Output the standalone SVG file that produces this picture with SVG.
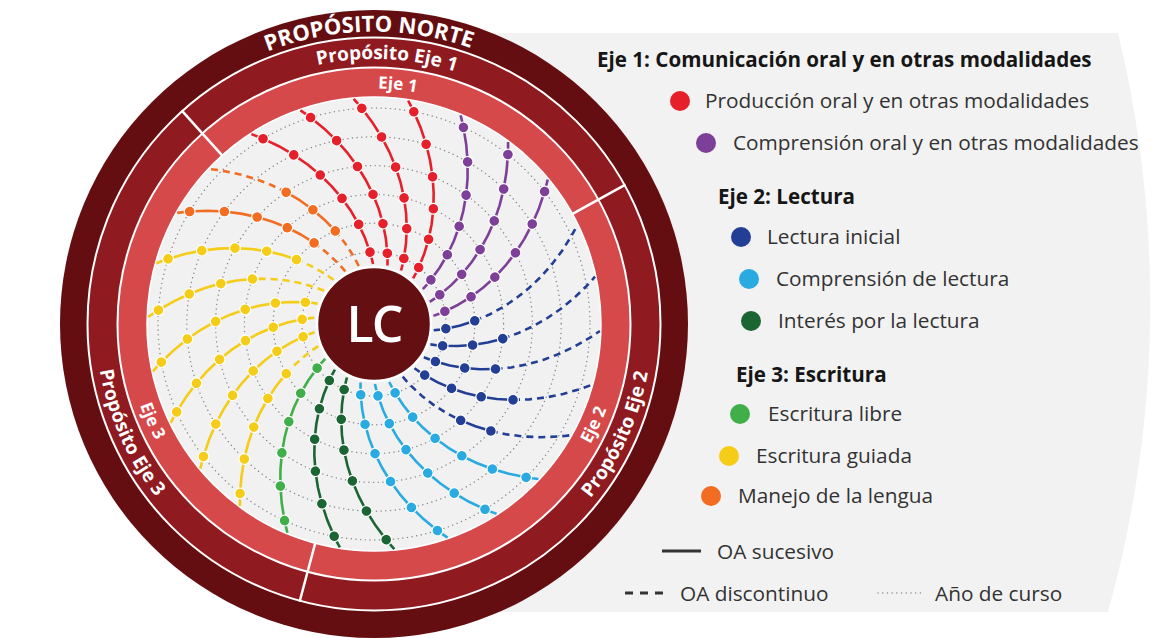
<svg xmlns="http://www.w3.org/2000/svg" width="1154" height="638" viewBox="0 0 1154 638">
<style>
.ring{font-family:"Open Sans","Liberation Sans",sans-serif;font-weight:700;fill:#fff}
.leg{font-family:"Open Sans","Liberation Sans",sans-serif;font-size:20.8px;fill:#333}
.head{font-family:"Open Sans","Liberation Sans",sans-serif;font-size:20.6px;font-weight:700;fill:#161616}
.yr{fill:none;stroke:#8a8a8a;stroke-width:1.4;stroke-dasharray:0.1 4.6;stroke-linecap:round}
.dash{stroke-dasharray:7 5}
.div{stroke:#fff;stroke-width:2.5}
</style>
<defs>
<path id="full" fill="none" d="M59.95,2.42 L65.99,1.33 72,0 86.3,-4.18 100.33,-9.74 113.99,-16.66 127.18,-24.92 139.81,-34.5 151.77,-45.34 162.99,-57.41 173.35,-70.66 182.79,-85.03 191.21,-100.47 193.88,-106.07 196.42,-111.78"/>
<path id="a60_101" fill="none" d="M59.95,2.42 L65.99,1.33 72,0 86.3,-4.18 100.33,-9.74"/>
<path id="a60_130" fill="none" d="M59.95,2.42 L65.99,1.33 72,0 86.3,-4.18 100.33,-9.74 113.99,-16.66 127.18,-24.92"/>
<path id="a60_158" fill="none" d="M59.95,2.42 L65.99,1.33 72,0 86.3,-4.18 100.33,-9.74 113.99,-16.66 127.18,-24.92 139.81,-34.5 151.77,-45.34"/>
<path id="a101_226" fill="none" d="M100.33,-9.74 L113.99,-16.66 127.18,-24.92 139.81,-34.5 151.77,-45.34 162.99,-57.41 173.35,-70.66 182.79,-85.03 191.21,-100.47 193.88,-106.07 196.42,-111.78"/>
<path id="a130_226" fill="none" d="M127.18,-24.92 L139.81,-34.5 151.77,-45.34 162.99,-57.41 173.35,-70.66 182.79,-85.03 191.21,-100.47 193.88,-106.07 196.42,-111.78"/>
<path id="a158_226" fill="none" d="M151.77,-45.34 L162.99,-57.41 173.35,-70.66 182.79,-85.03 191.21,-100.47 193.88,-106.07 196.42,-111.78"/>
<path id="a101_158" fill="none" d="M100.33,-9.74 L113.99,-16.66 127.18,-24.92 139.81,-34.5 151.77,-45.34"/>
<path id="a130_158" fill="none" d="M127.18,-24.92 L139.81,-34.5 151.77,-45.34"/>
<g id="D16" stroke="#fff" stroke-width="1.2"><circle cx="72" cy="0" r="5.4"/><circle cx="100.33" cy="-9.74" r="5.4"/><circle cx="127.18" cy="-24.92" r="5.4"/><circle cx="151.77" cy="-45.34" r="5.4"/><circle cx="173.35" cy="-70.66" r="5.4"/><circle cx="191.21" cy="-100.47" r="5.4"/></g>
<g id="D12" stroke="#fff" stroke-width="1.2"><circle cx="72" cy="0" r="5.4"/><circle cx="100.33" cy="-9.74" r="5.4"/></g>
<g id="D13" stroke="#fff" stroke-width="1.2"><circle cx="72" cy="0" r="5.4"/><circle cx="100.33" cy="-9.74" r="5.4"/><circle cx="127.18" cy="-24.92" r="5.4"/></g>
<g id="D14" stroke="#fff" stroke-width="1.2"><circle cx="72" cy="0" r="5.4"/><circle cx="100.33" cy="-9.74" r="5.4"/><circle cx="127.18" cy="-24.92" r="5.4"/><circle cx="151.77" cy="-45.34" r="5.4"/></g>
<g id="D34" stroke="#fff" stroke-width="1.2"><circle cx="127.18" cy="-24.92" r="5.4"/><circle cx="151.77" cy="-45.34" r="5.4"/></g>
<g id="D26" stroke="#fff" stroke-width="1.2"><circle cx="100.33" cy="-9.74" r="5.4"/><circle cx="127.18" cy="-24.92" r="5.4"/><circle cx="151.77" cy="-45.34" r="5.4"/><circle cx="173.35" cy="-70.66" r="5.4"/><circle cx="191.21" cy="-100.47" r="5.4"/></g>
<g id="D36" stroke="#fff" stroke-width="1.2"><circle cx="127.18" cy="-24.92" r="5.4"/><circle cx="151.77" cy="-45.34" r="5.4"/><circle cx="173.35" cy="-70.66" r="5.4"/><circle cx="191.21" cy="-100.47" r="5.4"/></g>
<g id="D24" stroke="#fff" stroke-width="1.2"><circle cx="100.33" cy="-9.74" r="5.4"/><circle cx="127.18" cy="-24.92" r="5.4"/><circle cx="151.77" cy="-45.34" r="5.4"/></g>
<path id="tpNorte" fill="none" d="M118.2,182.2 A292.5,292.5 0 0 1 624.7,173.4"/>
<path id="tpP1" fill="none" d="M151.2,180.4 A265,265 0 0 1 609.7,202.9"/>
<path id="tpE1" fill="none" d="M182.8,186.6 A235.5,235.5 0 0 1 588.6,227.1"/>
<path id="tpP2" fill="none" d="M401.1,600.7 A278,278 0 0 0 600,162.2"/>
<path id="tpE2" fill="none" d="M397.3,570.4 A247.5,247.5 0 0 0 575.7,180.6"/>
<path id="tpP3" fill="none" d="M149.1,160.6 A278,278 0 0 0 344.9,600.5"/>
<path id="tpE3" fill="none" d="M174.8,177.1 A247.5,247.5 0 0 0 346.4,570"/>
</defs>

<g id="background">
<rect width="1154" height="638" fill="#fff"/>
<path d="M380,33 L1118,33 A1150,1150 0 0 1 1108,612 L380,612 Z" fill="#F2F2F2"/>
</g>

<g id="wheel">
<circle cx="374" cy="324" r="314" fill="#650E12"/>
<circle cx="374" cy="324" r="286.5" fill="#8F1A20" stroke="#fff" stroke-width="2"/>
<circle cx="374" cy="324" r="256.5" fill="#D6494B" stroke="#fff" stroke-width="2"/>
<circle cx="374" cy="324" r="227" fill="#F1F1F1" stroke="#fff" stroke-width="1.5"/>
<line class="div" x1="222.1" y1="155.3" x2="181.6" y2="110.3"/>
<line class="div" x1="572.5" y1="213.9" x2="625.5" y2="184.6"/>
<line class="div" x1="315.2" y1="543.3" x2="299.6" y2="601.7"/>
</g>

<g id="ring-labels" class="ring">
<text font-size="22"><textPath href="#tpNorte" startOffset="50%" text-anchor="middle">PROPÓSITO NORTE</textPath></text>
<text font-size="19"><textPath href="#tpP1" startOffset="50%" text-anchor="middle">Propósito Eje 1</textPath></text>
<text font-size="17"><textPath href="#tpE1" startOffset="50%" text-anchor="middle">Eje 1</textPath></text>
<text font-size="19"><textPath href="#tpP2" startOffset="50%" text-anchor="middle">Propósito Eje 2</textPath></text>
<text font-size="17"><textPath href="#tpE2" startOffset="50%" text-anchor="middle">Eje 2</textPath></text>
<text font-size="19"><textPath href="#tpP3" startOffset="50%" text-anchor="middle">Propósito Eje 3</textPath></text>
<text font-size="17"><textPath href="#tpE3" startOffset="50%" text-anchor="middle">Eje 3</textPath></text>
</g>

<g id="year-circles">
<circle class="yr" cx="374" cy="324" r="72"/>
<circle class="yr" cx="374" cy="324" r="100.8"/>
<circle class="yr" cx="374" cy="324" r="129.6"/>
<circle class="yr" cx="374" cy="324" r="158.4"/>
<circle class="yr" cx="374" cy="324" r="187.2"/>
<circle class="yr" cx="374" cy="324" r="216"/>
</g>

<g id="arms" transform="translate(374 324)" stroke-width="2.6" stroke-linejoin="round">
<g id="arm-red-1" transform="rotate(-93.2)" stroke="#E5202A" fill="#E5202A"><use href="#full"/><use href="#D16"/></g>
<g id="arm-red-2" transform="rotate(-79.35)" stroke="#E5202A" fill="#E5202A"><use href="#full"/><use href="#D16"/></g>
<g id="arm-red-3" transform="rotate(-65.51)" stroke="#E5202A" fill="#E5202A"><use href="#full"/><use href="#D16"/></g>
<g id="arm-red-4" transform="rotate(-51.66)" stroke="#E5202A" fill="#E5202A"><use href="#full"/><use href="#D16"/></g>
<g id="arm-purple-1" transform="rotate(-37.82)" stroke="#7E3F98" fill="#7E3F98"><use href="#full"/><use href="#D16"/></g>
<g id="arm-purple-2" transform="rotate(-23.97)" stroke="#7E3F98" fill="#7E3F98"><use href="#full"/><use href="#D16"/></g>
<g id="arm-purple-3" transform="rotate(-10.12)" stroke="#7E3F98" fill="#7E3F98"><use href="#full"/><use href="#D16"/></g>
<g id="arm-blue-1" transform="rotate(3.72)" stroke="#233F95" fill="#233F95"><use href="#a60_101"/><use href="#a101_226" class="dash"/><use href="#D12"/></g>
<g id="arm-blue-2" transform="rotate(17.57)" stroke="#233F95" fill="#233F95"><use href="#a60_130"/><use href="#a130_226" class="dash"/><use href="#D13"/></g>
<g id="arm-blue-3" transform="rotate(31.41)" stroke="#233F95" fill="#233F95"><use href="#a60_130"/><use href="#a130_226" class="dash"/><use href="#D13"/></g>
<g id="arm-blue-4" transform="rotate(45.26)" stroke="#233F95" fill="#233F95"><use href="#a60_158"/><use href="#a158_226" class="dash"/><use href="#D14"/></g>
<g id="arm-blue-5" transform="rotate(59.11)" stroke="#233F95" fill="#233F95"><use href="#a60_130" class="dash"/><use href="#a130_158"/><use href="#a158_226" class="dash"/><use href="#D34"/></g>
<g id="arm-cyan-1" transform="rotate(72.95)" stroke="#29AAE1" fill="#29AAE1"><use href="#full"/><use href="#D16"/></g>
<g id="arm-cyan-2" transform="rotate(86.8)" stroke="#29AAE1" fill="#29AAE1"><use href="#full"/><use href="#D16"/></g>
<g id="arm-cyan-3" transform="rotate(100.64)" stroke="#29AAE1" fill="#29AAE1"><use href="#full"/><use href="#D16"/></g>
<g id="arm-dgreen-1" transform="rotate(114.49)" stroke="#1B6532" fill="#1B6532"><use href="#full"/><use href="#D16"/></g>
<g id="arm-dgreen-2" transform="rotate(128.34)" stroke="#1B6532" fill="#1B6532"><use href="#full"/><use href="#D16"/></g>
<g id="arm-green-1" transform="rotate(142.18)" stroke="#40AF49" fill="#40AF49"><use href="#full"/><use href="#D16"/></g>
<g id="arm-yellow-1" transform="rotate(156.03)" stroke="#F5CC17" fill="#F5CC17"><use href="#a60_101" class="dash"/><use href="#a101_226"/><use href="#D26"/></g>
<g id="arm-yellow-2" transform="rotate(169.87)" stroke="#F5CC17" fill="#F5CC17"><use href="#full"/><use href="#D16"/></g>
<g id="arm-yellow-3" transform="rotate(183.72)" stroke="#F5CC17" fill="#F5CC17"><use href="#full"/><use href="#D16"/></g>
<g id="arm-yellow-4" transform="rotate(197.57)" stroke="#F5CC17" fill="#F5CC17"><use href="#full"/><use href="#D16"/></g>
<g id="arm-yellow-5" transform="rotate(211.41)" stroke="#F5CC17" fill="#F5CC17"><use href="#a60_130" class="dash"/><use href="#a130_226"/><use href="#D36"/></g>
<g id="arm-yellow-6" transform="rotate(225.26)" stroke="#F5CC17" fill="#F5CC17"><use href="#a60_101" class="dash"/><use href="#a101_226"/><use href="#D26"/></g>
<g id="arm-orange-1" transform="rotate(239.1)" stroke="#F26C22" fill="#F26C22"><use href="#a60_101" class="dash"/><use href="#a101_226"/><use href="#D26"/></g>
<g id="arm-orange-2" transform="rotate(252.95)" stroke="#F26C22" fill="#F26C22"><use href="#a60_101" class="dash"/><use href="#a101_158"/><use href="#a158_226" class="dash"/><use href="#D24"/></g>
</g>

<g id="node-lc">
<circle cx="374" cy="324" r="57" fill="#640F12" stroke="#fff" stroke-width="2.5"/>
<text x="374" y="342" text-anchor="middle" font-family="Open Sans, Liberation Sans, sans-serif" font-weight="600" font-size="50" letter-spacing="-2" fill="#fff">LC</text>
</g>

<g id="legend">
<text class="head" x="597" y="67">Eje 1: Comunicación oral y en otras modalidades</text>
<g id="leg-produccion"><circle cx="680" cy="101" r="10" fill="#E5202A"/><text class="leg" x="705" y="108">Producción oral y en otras modalidades</text></g>
<g id="leg-comprension-oral"><circle cx="706" cy="143" r="10" fill="#7E3F98"/><text class="leg" x="733" y="150">Comprensión oral y en otras modalidades</text></g>
<text class="head" x="718" y="204">Eje 2: Lectura</text>
<g id="leg-lectura-inicial"><circle cx="741" cy="237" r="10" fill="#233F95"/><text class="leg" x="767" y="244">Lectura inicial</text></g>
<g id="leg-comprension-lectura"><circle cx="749" cy="279" r="10" fill="#29AAE1"/><text class="leg" x="776" y="286">Comprensión de lectura</text></g>
<g id="leg-interes"><circle cx="751" cy="321" r="10" fill="#1B6532"/><text class="leg" x="778" y="328">Interés por la lectura</text></g>
<text class="head" x="736" y="382">Eje 3: Escritura</text>
<g id="leg-escritura-libre"><circle cx="740" cy="414" r="10" fill="#40AF49"/><text class="leg" x="768" y="421">Escritura libre</text></g>
<g id="leg-escritura-guiada"><circle cx="729" cy="456" r="10" fill="#F5CC17"/><text class="leg" x="756" y="463">Escritura guiada</text></g>
<g id="leg-manejo"><circle cx="711" cy="496" r="10" fill="#F26C22"/><text class="leg" x="738" y="503">Manejo de la lengua</text></g>
<g id="leg-sucesivo"><line x1="662" y1="551" x2="701" y2="551" stroke="#333" stroke-width="3"/><text class="leg" x="717" y="559">OA sucesivo</text></g>
<g id="leg-discontinuo"><line x1="625" y1="593" x2="667" y2="593" stroke="#333" stroke-width="3" stroke-dasharray="8 7"/><text class="leg" x="680" y="601">OA discontinuo</text></g>
<g id="leg-anio"><line x1="878" y1="593" x2="922" y2="593" stroke="#8a8a8a" stroke-width="1.4" stroke-dasharray="0.1 4.6" stroke-linecap="round"/><text class="leg" x="935" y="601">Año de curso</text></g>
</g>
</svg>
